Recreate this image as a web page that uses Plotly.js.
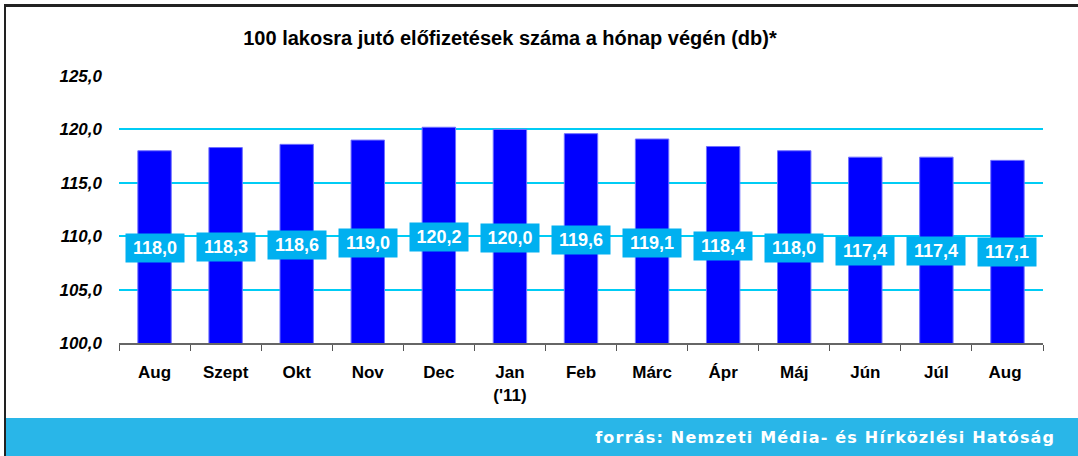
<!DOCTYPE html>
<html>
<head>
<meta charset="utf-8">
<script src="https://cdn.plot.ly/plotly-3.0.1.min.js"></script>
<style>html,body{margin:0;padding:0;background:#fff;}#chart{width:1078px;height:456px;}</style>
</head>
<body>
<div id="chart"></div>
<script>
const categories = ["Aug", "Szept", "Okt", "Nov", "Dec", "Jan<br>('11)", "Feb", "Márc", "Ápr", "Máj", "Jún", "Júl", "Aug "];
const values = [118.0, 118.3, 118.6, 119.0, 120.2, 120.0, 119.6, 119.1, 118.4, 118.0, 117.4, 117.4, 117.1];
const titleText = "100 lakosra jutó előfizetések száma a hónap végén (db)*";
const sourceText = "forrás: Nemzeti Média- és Hírközlési Hatóság";

const W = 1078, H = 456;
const M = {l: 119, r: 35, t: 76, b: 113};
const pw = W - M.l - M.r, ph = H - M.t - M.b;
const px2x = px => (px - M.l) / pw;
const py2y = py => 1 - (py - M.t) / ph;
const FONT = 'Liberation Sans, Arial, sans-serif';

const fmt = v => v.toFixed(1).replace('.', ',');

const trace = {
  type: 'bar',
  x: categories,
  y: values,
  width: 0.47,
  marker: {color: '#0000ff', line: {color: '#7070ff', width: 1}},
  hoverinfo: 'skip'
};

const annotations = values.map((v, i) => ({
  x: categories[i], y: 55.8 + v * 0.45, xref: 'x', yref: 'y',
  text: '<b>' + fmt(v) + '</b>', showarrow: false,
  font: {family: FONT, size: 18, color: '#ffffff'},
  bgcolor: '#00b0f0', borderpad: 4, width: 50, height: 20
}));

annotations.push({
  x: px2x(1057), y: py2y(437), xref: 'paper', yref: 'paper',
  xanchor: 'right', yanchor: 'middle', showarrow: false,
  text: '<b>' + sourceText + '</b>',
  font: {family: 'DejaVu Sans', size: 16, color: '#ffffff'}
});

const shapes = [
  {type: 'rect', xref: 'paper', yref: 'paper', x0: px2x(5), x1: px2x(1078), y0: py2y(456), y1: py2y(418),
   fillcolor: '#29b6e8', line: {width: 0}, layer: 'below'},
  {type: 'line', xref: 'paper', yref: 'paper', x0: px2x(5), x1: px2x(5), y0: py2y(456), y1: py2y(5),
   line: {color: '#222222', width: 2}},
  {type: 'line', xref: 'paper', yref: 'paper', x0: px2x(4), x1: px2x(1078), y0: py2y(5.5), y1: py2y(5.5),
   line: {color: '#222222', width: 3}}
];

const layout = {
  width: W, height: H,
  margin: M,
  paper_bgcolor: '#ffffff', plot_bgcolor: '#ffffff',
  separators: ',.',
  showlegend: false,
  title: {text: '<b>' + titleText + '</b>', x: 510 / W, xanchor: 'center', y: 1 - 38 / H, yanchor: 'middle',
          font: {family: FONT, size: 20, color: '#000000'}},
  xaxis: {
    type: 'category', tickson: 'boundaries', ticks: 'outside', ticklen: 6, tickcolor: '#555555', tickwidth: 1,
    showline: true, linecolor: '#666666', linewidth: 2, showgrid: false,
    ticklabelstandoff: 13,
    tickfont: {family: FONT, size: 17, color: '#000000', weight: 'bold'}
  },
  yaxis: {
    range: [100, 125], dtick: 5, tick0: 100, tickformat: '.1f',
    showgrid: true, gridcolor: '#00ccf5', gridwidth: 2, zeroline: false, showline: false,
    ticks: '', ticklabelstandoff: 16,
    tickfont: {family: FONT, size: 17, color: '#000000', weight: 'bold', style: 'italic'}
  },
  annotations: annotations,
  shapes: shapes
};

Plotly.newPlot('chart', [trace], layout, {displayModeBar: false, staticPlot: true}).then(gd => {
  // widen the source line to mimic the extended typeface of the original
  const texts = gd.querySelectorAll('.annotation-text');
  const t = texts[texts.length - 1];
  if (t) {
    const before = t.getBoundingClientRect();
    t.style.letterSpacing = '1.2px';
    const after = t.getBoundingClientRect();
    const dx = before.right - after.right;
    t.setAttribute('transform', 'translate(' + dx + ',0)');
  }
});
</script>
</body>
</html>
